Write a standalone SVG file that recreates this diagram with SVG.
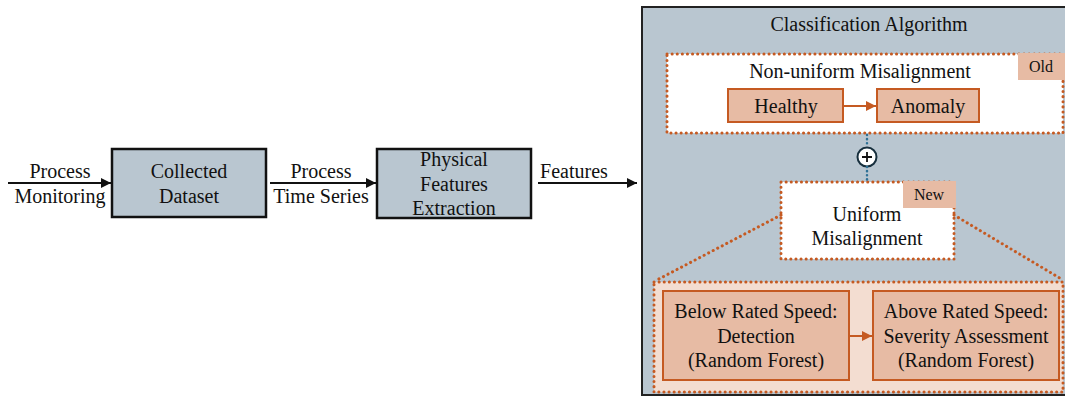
<svg xmlns="http://www.w3.org/2000/svg" width="1065" height="397" viewBox="0 0 1065 397">
<style>
text{font-family:"Liberation Serif","Times New Roman",serif;font-size:20px;fill:#111;text-anchor:middle}
.sm{font-size:16px}
.gbox{fill:#b9c6d0;stroke:#111;stroke-width:2.5}
.obox{fill:#e7bba4;stroke:#c55a22;stroke-width:2}
.dot{fill:none;stroke:#c55a22;stroke-width:3;stroke-dasharray:0.1 5;stroke-linecap:round}
.tag{fill:#e7bba4}
.blk{stroke:#111;stroke-width:2;fill:none}
.org{stroke:#c55a22;stroke-width:2;fill:none}
.bdot{stroke:#2f7196;stroke-width:2.5;stroke-dasharray:0.1 4;stroke-linecap:round;fill:none}
</style>
<defs>
<marker id="ab" viewBox="0 0 10 10" refX="10" refY="5" markerWidth="5" markerHeight="5" orient="auto" markerUnits="strokeWidth"><path d="M0,0 L10,5 L0,10 z" fill="#111"/></marker>
<marker id="ao" viewBox="0 0 10 10" refX="10" refY="5" markerWidth="5" markerHeight="5" orient="auto" markerUnits="strokeWidth"><path d="M0,0 L10,5 L0,10 z" fill="#c55a22"/></marker>
</defs>
<rect width="1065" height="397" fill="#fff"/>
<g id="classification-algorithm">
<rect x="642" y="7" width="440" height="388" fill="#b9c6d0" stroke="#222" stroke-width="2"/>
<text x="869" y="31">Classification Algorithm</text>
</g>
<g id="collected-dataset">
<rect class="gbox" x="112" y="149" width="154" height="68"/>
<text x="189" y="178">Collected</text>
<text x="189" y="203">Dataset</text>
</g>
<g id="physical-features">
<rect class="gbox" x="377" y="149" width="154" height="69"/>
<text x="454" y="166">Physical</text>
<text x="454" y="191">Features</text>
<text x="454" y="215">Extraction</text>
</g>
<g id="non-uniform">
<rect x="667" y="54" width="396" height="79" fill="#fff"/>
<rect class="dot" x="667" y="54" width="396" height="79"/>
<rect class="tag" x="1018" y="53" width="47" height="27"/>
<text class="sm" x="1041" y="72">Old</text>
<text x="860" y="78">Non-uniform Misalignment</text>
</g>
<g id="healthy">
<rect class="obox" x="728" y="89" width="115" height="33"/>
<text x="786" y="113">Healthy</text>
</g>
<g id="anomaly">
<rect class="obox" x="877" y="89" width="102" height="33"/>
<text x="928" y="113">Anomaly</text>
</g>
<g id="plus">
<circle cx="867" cy="157" r="9.5" fill="#fff" stroke="#172f3d" stroke-width="2"/>
<path d="M862,157 H872 M867,152 V162" stroke="#111" stroke-width="1.8"/>
</g>
<g id="uniform">
<rect x="781" y="182" width="173" height="77" fill="#fff"/>
<rect class="dot" x="781" y="182" width="173" height="77"/>
<rect class="tag" x="903" y="181" width="53" height="27"/>
<text class="sm" x="929" y="200">New</text>
<text x="867" y="221">Uniform</text>
<text x="867" y="245">Misalignment</text>
</g>
<g id="uniform-detail">
<rect x="654" y="282" width="409" height="110" fill="#f3ddd1"/>
<rect class="dot" x="654" y="282" width="409" height="110"/>
</g>
<g id="below-rated">
<rect class="obox" x="663" y="291" width="186" height="89"/>
<text x="756" y="318">Below Rated Speed:</text>
<text x="756" y="343">Detection</text>
<text x="756" y="367">(Random Forest)</text>
</g>
<g id="above-rated">
<rect class="obox" x="873" y="291" width="186" height="89"/>
<text x="966" y="318">Above Rated Speed:</text>
<text x="966" y="343">Severity Assessment</text>
<text x="966" y="367">(Random Forest)</text>
</g>
<g id="connectors">
<line class="blk" x1="8" y1="183" x2="111" y2="183" marker-end="url(#ab)"/>
<text x="60" y="178">Process</text>
<text x="60" y="203">Monitoring</text>
<line class="blk" x1="270" y1="183" x2="376" y2="183" marker-end="url(#ab)"/>
<text x="321" y="178">Process</text>
<text x="321" y="203">Time Series</text>
<line class="blk" x1="538" y1="183" x2="637" y2="183" marker-end="url(#ab)"/>
<text x="574" y="178">Features</text>
<line class="org" x1="843" y1="106" x2="876" y2="106" marker-end="url(#ao)"/>
<line class="org" x1="849" y1="336" x2="872" y2="336" marker-end="url(#ao)"/>
<line class="bdot" x1="867" y1="135" x2="867" y2="147"/>
<line class="bdot" x1="867" y1="167" x2="867" y2="181"/>
<line class="dot" x1="781" y1="215" x2="655" y2="281"/>
<line class="dot" x1="954" y1="215" x2="1063" y2="280"/>
</g>
</svg>
